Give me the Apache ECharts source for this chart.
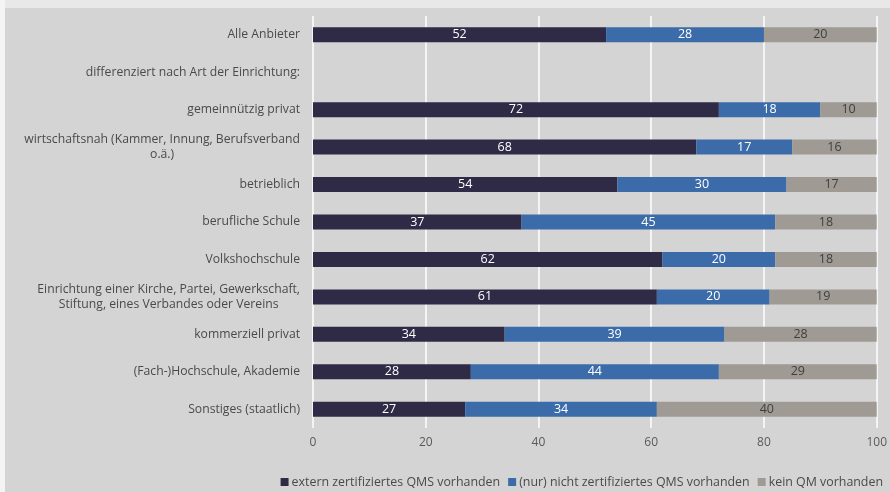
<!DOCTYPE html>
<html>
<head>
<meta charset="utf-8">
<script src="https://cdn.jsdelivr.net/npm/echarts@6/dist/echarts.min.js"></script>
<style>
  html, body { margin: 0; padding: 0; background: #ffffff; }
  #chart { width: 890px; height: 492px; }
</style>
</head>
<body>
<div id="chart"></div>
<script>
// Kategorien (von oben nach unten)
const categories = [
  'Alle Anbieter',
  'differenziert nach Art der Einrichtung:',
  'gemeinnützig privat',
  'wirtschaftsnah (Kammer, Innung, Berufsverband\no.ä.)',
  'betrieblich',
  'berufliche Schule',
  'Volkshochschule',
  'Einrichtung einer Kirche, Partei, Gewerkschaft,\nStiftung, eines Verbandes oder Vereins',
  'kommerziell privat',
  '(Fach-)Hochschule, Akademie',
  'Sonstiges (staatlich)'
];

// Anteile in Prozent
const externZertifiziert = [52, null, 72, 68, 54, 37, 62, 61, 34, 28, 27];
const nichtZertifiziert  = [28, null, 18, 17, 30, 45, 20, 20, 39, 44, 34];
const keinQM             = [20, null, 10, 16, 17, 18, 18, 19, 28, 29, 40];

const seriesNames = [
  'extern zertifiziertes QMS vorhanden',
  '(nur) nicht zertifiziertes QMS vorhanden',
  'kein QM vorhanden'
];

const xTicks = [0, 20, 40, 60, 80, 100];

const FONT = 'Open Sans';
const colors = ['#2f2b46', '#3b6ca9', '#a09a95'];
const labelColors = ['#ffffff', '#ffffff', '#3f3f3f'];

const chart = echarts.init(document.getElementById('chart'), null, { renderer: 'canvas' });

function makeSeries(name, data, i) {
  return {
    name: name,
    type: 'bar',
    stack: 'total',
    barWidth: 15,
    data: data,
    itemStyle: { color: colors[i] },
    label: {
      show: true,
      position: 'inside',
      color: labelColors[i],
      fontFamily: FONT,
      fontSize: 12.5,
      formatter: p => (p.value == null ? '' : String(p.value))
    },
    emphasis: { disabled: true }
  };
}

chart.setOption({
  backgroundColor: '#d4d4d4',
  animation: false,
  textStyle: { fontFamily: FONT },
  graphic: [
    { type: 'rect', z: -10, shape: { x: 0, y: 0, width: 890, height: 8 }, style: { fill: '#e8e8e8' } },
    { type: 'rect', z: -10, shape: { x: 0, y: 0, width: 5, height: 492 }, style: { fill: '#f4f4f4' } }
  ],
  grid: { left: 313, right: 13, top: 16, bottom: 64, containLabel: false },
  xAxis: {
    type: 'value',
    min: xTicks[0],
    max: xTicks[xTicks.length - 1],
    interval: 20,
    axisLine: { show: false },
    axisTick: { show: false },
    splitLine: { show: true, lineStyle: { color: '#ffffff', width: 1.5 } },
    axisLabel: { color: '#5a5a5a', fontSize: 12, fontFamily: FONT, margin: 9 }
  },
  yAxis: {
    type: 'category',
    inverse: true,
    data: categories,
    axisLine: { show: false },
    axisTick: { show: false },
    splitLine: { show: false },
    axisLabel: {
      margin: 13,
      align: 'right',
      color: '#4a4a4a',
      fontSize: 12.2,
      fontFamily: FONT,
      lineHeight: 15,
      formatter: v => v.split('\n').map(l => '{c|' + l + '}').join('\n'),
      rich: { c: { align: 'center', color: '#4a4a4a', fontSize: 12.2, fontFamily: FONT, lineHeight: 15 } }
    }
  },
  legend: {
    data: seriesNames,
    right: 2,
    top: 471,
    itemWidth: 8,
    itemHeight: 8,
    itemGap: 8,
    icon: 'rect',
    textStyle: { color: '#4a4a4a', fontSize: 12.4, fontFamily: FONT, padding: [0, 0, 0, -2] }
  },
  series: [
    makeSeries(seriesNames[0], externZertifiziert, 0),
    makeSeries(seriesNames[1], nichtZertifiziert, 1),
    makeSeries(seriesNames[2], keinQM, 2)
  ]
});
</script>
</body>
</html>
